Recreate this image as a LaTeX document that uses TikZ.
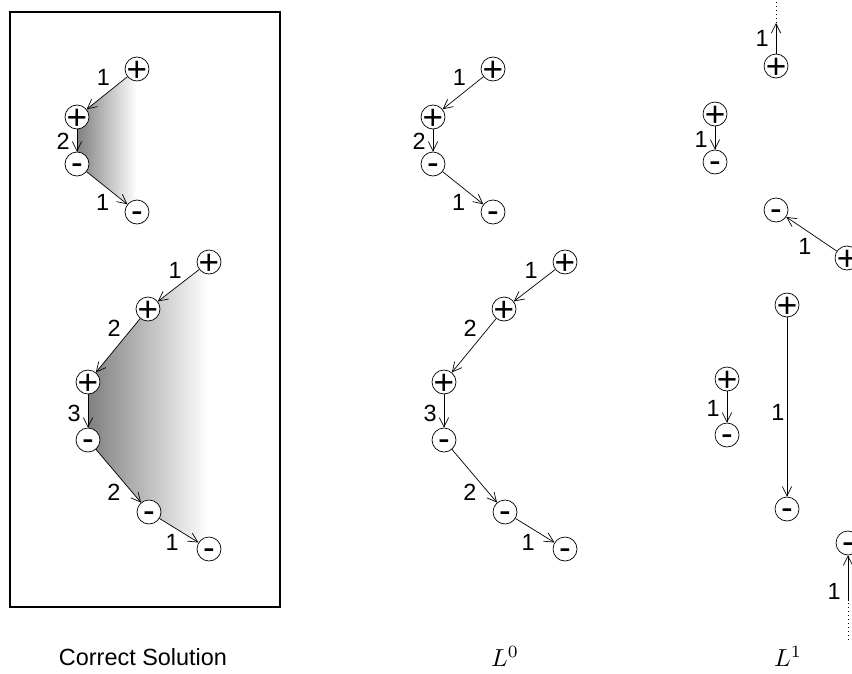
\documentclass[tikz,border=0pt]{standalone}
\usepackage{fontspec}
\setmainfont{Liberation Sans}
\usetikzlibrary{arrows.meta,backgrounds}
\newcommand{\sgnplus}{\makebox[0pt]{\raisebox{-.35em}[0pt][0pt]{+}}}
\newcommand{\sgnminus}{\makebox[0pt]{\raisebox{-.285em}[0pt][0pt]{-}}}

\begin{document}
\begin{tikzpicture}[x=0.03cm,y=-0.03cm,
  pole/.style={circle,draw,fill=white,minimum size=0.72cm,inner sep=0pt,line width=0.6pt,font=\fontsize{30}{32}\selectfont},
  lbl/.style={inner sep=2pt,font=\fontsize{20}{24}\selectfont},
  link/.style={-{Straight Barb[length=8pt,width=8pt]},line width=0.6pt},
  trail/.style={line width=0.6pt,dash pattern=on 0.8pt off 2.6pt}]
\path[use as bounding box,clip] (0,0) rectangle (852,673);
\draw[line width=2pt] (10,12) rectangle (280,607);
\foreach \dx/\pn in {0/l,356/m} {
	\node[pole] (t1\pn) at (137+\dx,69) {\sgnplus};
	\node[pole] (t2\pn) at (77+\dx,117) {\sgnplus};
	\node[pole] (t3\pn) at (77+\dx,164) {\sgnminus};
	\node[pole] (t4\pn) at (137+\dx,212) {\sgnminus};
	\draw[link] (t1\pn) -- node[lbl,pos=.36,above left]{1} (t2\pn);
	\draw[link] (t2\pn) -- node[lbl,pos=.55,left=4pt]{2} (t3\pn);
	\draw[link] (t3\pn) -- node[lbl,pos=.62,below left]{1} (t4\pn);
	\node[pole] (b1\pn) at (209+\dx,262) {\sgnplus};
	\node[pole] (b2\pn) at (148+\dx,309) {\sgnplus};
	\node[pole] (b3\pn) at (88+\dx,382) {\sgnplus};
	\node[pole] (b4\pn) at (88+\dx,440) {\sgnminus};
	\node[pole] (b5\pn) at (149+\dx,512) {\sgnminus};
	\node[pole] (b6\pn) at (209+\dx,549) {\sgnminus};
	\draw[link] (b1\pn) -- node[lbl,pos=.36,above left]{1} (b2\pn);
	\draw[link] (b2\pn) -- node[lbl,pos=.38,above left]{2} (b3\pn);
	\draw[link] (b3\pn) -- node[lbl,pos=.56,left=4pt]{3} (b4\pn);
	\draw[link] (b4\pn) -- node[lbl,pos=.6,below left]{2} (b5\pn);
	\draw[link] (b5\pn) -- node[lbl,pos=.56,below left]{1} (b6\pn);
}
\begin{scope}[on background layer]
	\shade[left color=black!50,right color=white] (t1l.center) -- (t2l.center) -- (t3l.center) -- (t4l.center) -- cycle;
	\shade[left color=black!50,right color=white] (b1l.center) -- (b2l.center) -- (b3l.center) -- (b4l.center) -- (b5l.center) -- (b6l.center) -- cycle;
\end{scope}
\node[pole] (r1) at (776,66) {\sgnplus};
\coordinate (r1tip) at (776,23);
\coordinate (r1end) at (776,0);
\draw[link] (r1) -- node[lbl,pos=.5,left=4pt]{1} (r1tip);
\draw[trail] (r1tip) -- (r1end);
\node[pole] (r2) at (715,114) {\sgnplus};
\node[pole] (r3) at (715,162) {\sgnminus};
\draw[link] (r2) -- node[lbl,pos=.55,left=4pt]{1} (r3);
\node[pole] (r4) at (776,210) {\sgnminus};
\node[pole] (r5) at (847,258) {\sgnplus};
\draw[link] (r5) -- node[lbl,pos=.45,below left]{1} (r4);
\node[pole] (r6) at (787,305) {\sgnplus};
\node[pole] (r7) at (787,509) {\sgnminus};
\draw[link] (r6) -- node[lbl,pos=.53,left]{1} (r7);
\node[pole] (r8) at (727,379) {\sgnplus};
\node[pole] (r9) at (727,435) {\sgnminus};
\draw[link] (r8) -- node[lbl,pos=.53,left=4pt]{1} (r9);
\node[pole] (r10) at (848,543) {\sgnminus};
\coordinate (r10tail) at (848,600);
\coordinate (r10end) at (848,640);
\draw[trail] (r10end) -- (r10tail);
\draw[link] (r10tail) -- node[lbl,pos=.2,left=4pt]{1} (r10);
\node[font=\fontsize{20}{24}\selectfont] (cap1) at (143,657) {Correct Solution};
\node[scale=2.1] (cap2) at (505,656) {$L^0$};
\node[scale=2.1] (cap3) at (788,656) {$L^1$};
\end{tikzpicture}
\end{document}
